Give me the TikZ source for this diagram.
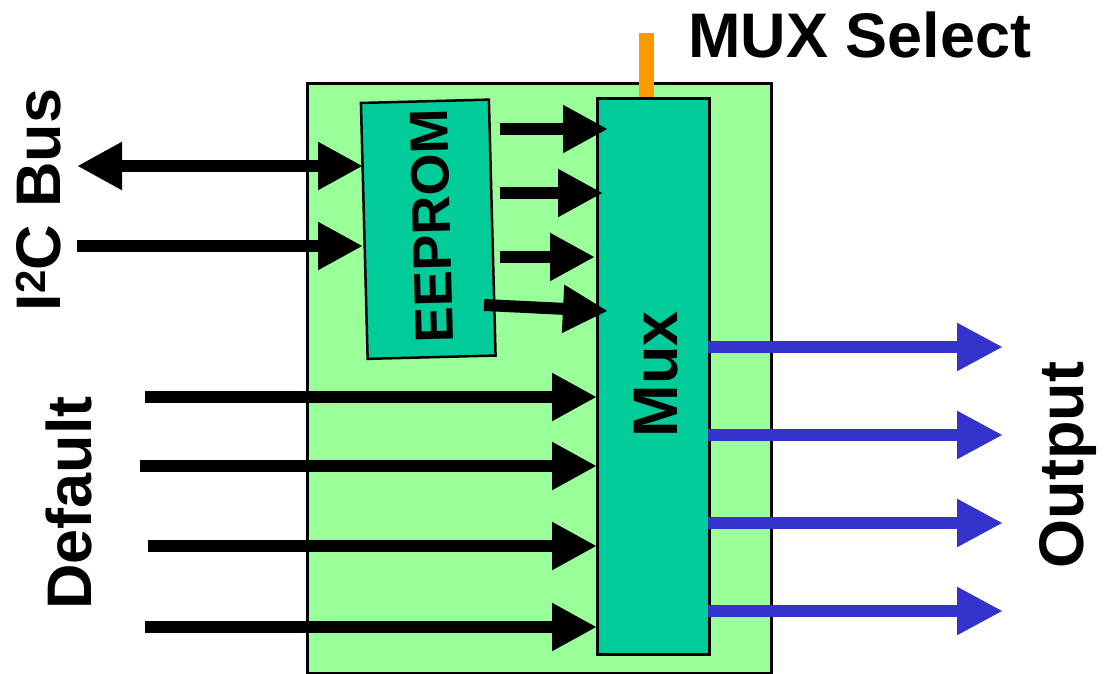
\documentclass[tikz,border=0pt]{standalone}
\usepackage{fontspec}
\setmainfont{Liberation Sans}
\usetikzlibrary{arrows.meta}
\definecolor{boardgreen}{HTML}{99FF99}
\definecolor{chipgreen}{HTML}{00CC99}
\definecolor{selorange}{HTML}{FF9900}
\definecolor{outblue}{HTML}{3333CC}
\begin{document}
\begin{tikzpicture}[x=1pt,y=-1pt,
  big/.style={font=\fontsize{63}{63}\selectfont\bfseries, inner sep=0pt},
  chip/.style={draw=black, fill=chipgreen, line width=3pt, inner sep=0pt},
  wire/.style={line width=12pt, -{Triangle[length=45pt,width=45pt]}},
  dwire/.style={line width=12pt, {Triangle[length=45pt,width=45pt]}-{Triangle[length=45pt,width=45pt]}},
  owire/.style={wire, draw=outblue, -{Triangle[length=46pt,width=45pt,fill=outblue]}}]
\useasboundingbox (0,0) rectangle (1104,674);
% board
\node[draw=black, fill=boardgreen, line width=3pt, inner sep=0pt, anchor=north west,
      minimum width=464pt, minimum height=590pt] (board) at (306,82) {};
% mux select line
\coordinate (sel) at (646,33);
\coordinate (selend) at (646,99);
\draw[selorange, line width=15pt] (sel) -- (selend);
% EEPROM
\node[chip, line width=2.5pt, rotate=1.5, minimum width=128pt, minimum height=256pt] (eeprom) at (428.25,229.25) {};
\node[font=\fontsize{54}{54}\selectfont\bfseries, inner sep=0pt, rotate=91.5, anchor=base] (eeptext) at (450,226) {EEPROM};
% Mux
\node[chip, anchor=north west, minimum width=112pt, minimum height=556pt] (mux) at (596,97) {};
\node[big, rotate=90, anchor=base] (muxtext) at (677,374) {Mux};
% I2C arrows
\coordinate (i2ca) at (77,166);
\coordinate (i2cb) at (363,166);
\coordinate (i2cc) at (77,246);
\coordinate (i2cd) at (363,246);
\draw[dwire] (i2ca) -- (i2cb);
\draw[wire] (i2cc) -- (i2cd);
% EEPROM to mux
\coordinate (ea1) at (500,129); \coordinate (eb1) at (608,129);
\coordinate (ea2) at (500,193); \coordinate (eb2) at (603,193);
\coordinate (ea3) at (500,257); \coordinate (eb3) at (595,257);
\coordinate (ea4) at (484,305); \coordinate (eb4) at (608,311);
\draw[wire] (ea1) -- (eb1);
\draw[wire] (ea2) -- (eb2);
\draw[wire] (ea3) -- (eb3);
\draw[wire] (ea4) -- (eb4);
% default inputs
\coordinate (da1) at (145,397); \coordinate (db1) at (597,397);
\coordinate (da2) at (140,466); \coordinate (db2) at (597,466);
\coordinate (da3) at (148,546); \coordinate (db3) at (597,546);
\coordinate (da4) at (145,627); \coordinate (db4) at (597,627);
\draw[wire] (da1) -- (db1);
\draw[wire] (da2) -- (db2);
\draw[wire] (da3) -- (db3);
\draw[wire] (da4) -- (db4);
% outputs
\coordinate (oa1) at (708,347); \coordinate (ob1) at (1003,347);
\coordinate (oa2) at (708,435); \coordinate (ob2) at (1003,435);
\coordinate (oa3) at (708,523); \coordinate (ob3) at (1003,523);
\coordinate (oa4) at (708,611); \coordinate (ob4) at (1003,611);
\draw[owire] (oa1) -- (ob1);
\draw[owire] (oa2) -- (ob2);
\draw[owire] (oa3) -- (ob3);
\draw[owire] (oa4) -- (ob4);
% labels
\node[big, anchor=base west] (seltext) at (688,58) {MUX Select};
\node[big, rotate=90, anchor=base] (i2ctext) at (60,200) {I\raisebox{15pt}{\fontsize{42}{42}\selectfont 2}C Bus};
\node[big, rotate=90, anchor=base] (deftext) at (91,503) {Default};
\node[big, rotate=90, anchor=base] (outtext) at (1083,465) {Output};
\end{tikzpicture}
\end{document}
